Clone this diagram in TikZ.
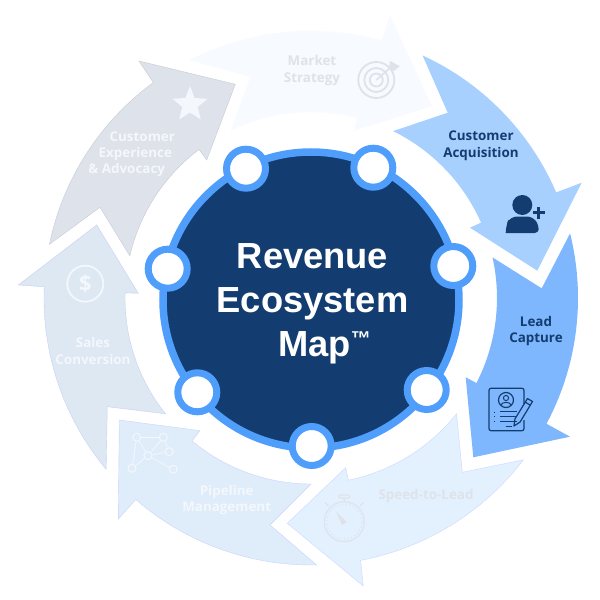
\documentclass[tikz,border=0pt]{standalone}
\usepackage{fontspec}
\usepackage{xcolor}
\newfontfamily\labelfont{Open Sans}
\newfontfamily\titlefont{Liberation Sans}
\usetikzlibrary{shapes.geometric}
\definecolor{navy}{HTML}{133D70}
\definecolor{ringblue}{HTML}{4F9EFB}
\definecolor{marketfill}{HTML}{F7FAFF}
\definecolor{acquirefill}{HTML}{A8D0FF}
\definecolor{leadfill}{HTML}{7EB7FD}
\definecolor{speedfill}{HTML}{E3F0FE}
\definecolor{pipefill}{HTML}{DFECFA}
\definecolor{salesfill}{HTML}{DDE8F3}
\definecolor{carefill}{HTML}{DDE2EB}
\definecolor{paleink}{HTML}{DEE3EA}
\definecolor{whiteink}{HTML}{F4F7FB}

\begin{document}
\begin{tikzpicture}[x=1pt,y=1pt,
    ringdot/.style={shape=circle, minimum size=39pt, inner sep=0pt, draw=ringblue, line width=7pt, fill=white},
    steplabel/.style={font=\labelfont\bfseries\fontsize{13.4}{16.7}\selectfont, align=center, inner sep=0pt},
    netdot/.style={shape=circle, minimum size=8pt, inner sep=0pt, draw=whiteink, line width=1pt}]
    \useasboundingbox (-311,-302) rectangle (289,298);

    % the seven arrows, all arcs share one centre
    \draw[fill=marketfill,draw=marketfill,line width=.4pt] (117:267) arc[start angle=117,end angle=74.6,radius=267pt]
      -- (79,282) -- (120.7,192) -- (43,167.3) -- (75.7:186) arc[start angle=75.7,end angle=115.4,radius=186pt] -- (-60.3,221.3) -- cycle;
    \fill[acquirefill] (65.3:267) arc[start angle=65.3,end angle=23.3,radius=267pt]
      -- (270.7,115.3) -- (226.3,27.3) -- (159,70.3) -- (23.9:186) arc[start angle=23.9,end angle=63.8,radius=186pt] -- (136.7,185.3) -- cycle;
    \fill[leadfill] (14:267) arc[start angle=14,end angle=-28.1,radius=267pt]
      -- (259,-138.7) -- (162.3,-159.3) -- (154.7,-79.3) -- (-27.2:186) arc[start angle=-27.2,end angle=12.6,radius=186pt] -- (230.7,9.7) -- cycle;
    \draw[fill=speedfill,draw=speedfill!90!blue,line width=.4pt] (-37.3:267) arc[start angle=-37.3,end angle=-79.3,radius=267pt]
      -- (52.3,-288) -- (-23.7,-225.3) -- (34.7,-169.7) -- (-78.4:186) arc[start angle=-78.4,end angle=-38.5,radius=186pt] -- (151.3,-174.3) -- cycle;
    \draw[fill=pipefill,draw=pipefill!90!blue,line width=.4pt] (-88.8:267) arc[start angle=-88.8,end angle=-131,radius=267pt]
      -- (-192.7,-221) -- (-191.7,-122) -- (-111,-132.7) -- (-129.8:186) arc[start angle=-129.8,end angle=-90,radius=186pt] -- (-41,-227) -- cycle;
    \draw[fill=salesfill,draw=salesfill!90!blue,line width=.4pt] (219.9:267) arc[start angle=219.9,end angle=177.6,radius=267pt]
      -- (-292.7,13) -- (-214.3,73) -- (-172.7,4.7) -- (178.4:186) arc[start angle=178.4,end angle=218.5,radius=186pt] -- (-203.7,-108.7) -- cycle;
    \draw[fill=carefill,draw=carefill!90!black,line width=.4pt] (168.4:267) arc[start angle=168.4,end angle=126.2,radius=267pt]
      -- (-172,237) -- (-75.7,213.7) -- (-104.3,138) -- (127:186) arc[start angle=127,end angle=166.9,radius=186pt] -- (-211,90.7) -- cycle;

    % hub
    \node[shape=circle, minimum size=296pt, inner sep=0pt, draw=ringblue, line width=7.5pt, fill=navy] (hub) at (0,-2) {};
    \node[font=\titlefont\bfseries\fontsize{36.3}{44}\selectfont, text=white, align=center, inner sep=0pt] (title) at (1.5,-6)
      {Revenue\\Ecosystem\\\hspace*{24pt}Map\raisebox{11pt}{\fontsize{20}{20}\selectfont ™}};
    \node[ringdot] (dotA) at (62.3,130.3) {};
    \node[ringdot] (dotB) at (142.3,32) {};
    \node[ringdot] (dotC) at (115.7,-92) {};
    \node[ringdot] (dotD) at (0.7,-148) {};
    \node[ringdot] (dotE) at (-113.7,-94.3) {};
    \node[ringdot] (dotF) at (-143.3,29.3) {};
    \node[ringdot] (dotG) at (-65,129.3) {};

    % labels
    \node[steplabel,text=paleink] (market) at (1,227.8) {Market\\Strategy};
    \node[steplabel,text=navy] (acquire) at (170,152.2) {Customer\\Acquisition};
    \node[steplabel,text=navy] (lead) at (225,-33) {Lead\\Capture};
    \node[steplabel,text=paleink] (speed) at (115,-198.5) {Speed-to-Lead};
    \node[steplabel,text=whiteink] (pipe) at (-84.3,-202) {Pipeline\\Management};
    \node[steplabel,text=whiteink] (sales) at (-218,-53) {Sales\\Conversion};
    \node[steplabel,text=whiteink] (careA) at (-168.7,161) {Customer};
    \node[steplabel,text=whiteink] (careB) at (-175.7,144.3) {Experience};
    \node[steplabel,text=whiteink] (careC) at (-184.3,128) {\& Advocacy};

    % person icon
    \fill[navy] (211.3,93) circle (10);
    \fill[navy,rounded corners=4pt] (194.7,65) -- (227.7,65) -- (227.7,72) [rounded corners=7pt] -- (223,81.5) -- (199,81.5) -- (194.7,72) [sharp corners] -- cycle;
    \draw[navy,line width=2.6pt] (221.5,85.3) -- (234,85.3) (227.7,79) -- (227.7,91.5);

    % form and pen icon
    \draw[navy,line width=1.2pt,rounded corners=2pt] (213,-106) -- (213,-90.3) -- (178,-90.3) -- (178,-132.7) -- (213,-132.7) -- (213,-122);
    \draw[navy,line width=1.2pt] (195,-102) circle (7.5);
    \draw[navy,line width=1pt] (195,-100) circle (2.6);
    \draw[navy,line width=1pt] (189.8,-107) .. controls (191,-103.5) and (199,-103.5) .. (200.2,-107);
    \draw[navy,line width=1.2pt] (189,-113.5) -- (206,-113.5) (189,-118.2) -- (206,-118.2) (189,-123.2) -- (206,-123.2) (194.5,-128.5) -- (201,-128.5);
    \draw[navy,line width=1.2pt,dash pattern=on 1.2pt off 3.5pt] (183.5,-113.5) -- (183.5,-124);
    \draw[navy,line width=1.2pt,line join=round] (216.5,-100.5) -- (221.5,-103.5) -- (209.1,-124) -- (203,-128) -- (203.9,-121) -- cycle;
    \draw[navy,line width=1.2pt] (214.3,-104.2) -- (219.5,-107.3);
    % pale target icon
    \draw[paleink,line width=1.8pt] (65.3,218) circle (18);
    \draw[paleink,line width=1.8pt] (65.3,218) circle (12);
    \draw[paleink,line width=1.8pt] (65.3,218) circle (6.5);
    \draw[paleink,line width=1.6pt] (65.3,218) -- (80,231);
    \fill[paleink] (78,229) -- (79,237) -- (84,234.5) -- (84,234) -- (89,232) -- (83,227) -- cycle;

    % stopwatch
    \draw[paleink,line width=1.1pt] (33.3,-223.7) circle (20);
    \draw[paleink,line width=1.3pt,dash pattern=on .9pt off 2.7pt] (33.3,-223.7) circle (17.6);
    \draw[paleink,line width=1.2pt,rounded corners=1pt] (28,-200) rectangle (38.6,-197);
    \draw[paleink,line width=1.2pt] (33.3,-200) -- (33.3,-203.7) (17.5,-208) -- (14,-204.5) (49,-208) -- (52.5,-204.5);
    \fill[paleink] (36,-224) -- (25,-213) -- (31,-227) -- cycle;

    % pipeline network
    \node[netdot] (netA) at (-174.3,-139.3) {};
    \node[netdot] (netB) at (-147.7,-139.3) {};
    \node[netdot] (netC) at (-141.7,-153.7) {};
    \node[netdot] (netD) at (-163,-157.7) {};
    \node[netdot] (netE) at (-179,-170.3) {};
    \node[netdot] (netF) at (-137.7,-171.3) {};
    \draw[whiteink,line width=.8pt] (netA) -- (netB);
    \draw[whiteink,line width=.8pt] (netA) -- (netD);
    \draw[whiteink,line width=.8pt] (netA) -- (netE);
    \draw[whiteink,line width=.8pt] (netB) -- (netD);
    \draw[whiteink,line width=.8pt] (netB) -- (netC);
    \draw[whiteink,line width=.8pt] (netC) -- (netD);
    \draw[whiteink,line width=.8pt] (netD) -- (netE);
    \draw[whiteink,line width=.8pt] (netD) -- (netF);

    % coin and star
    \node[shape=circle, minimum size=36pt, inner sep=0pt, draw=whiteink, line width=1.8pt, text=whiteink,
      font=\labelfont\bfseries\fontsize{22}{22}\selectfont] (coin) at (-225.7,14.3) {\$};
    \node[shape=star, star points=5, star point ratio=2.3, minimum size=37pt, inner sep=0pt, fill=whiteink] (star) at (-121,193.5) {};
  \end{tikzpicture}
\end{document}
